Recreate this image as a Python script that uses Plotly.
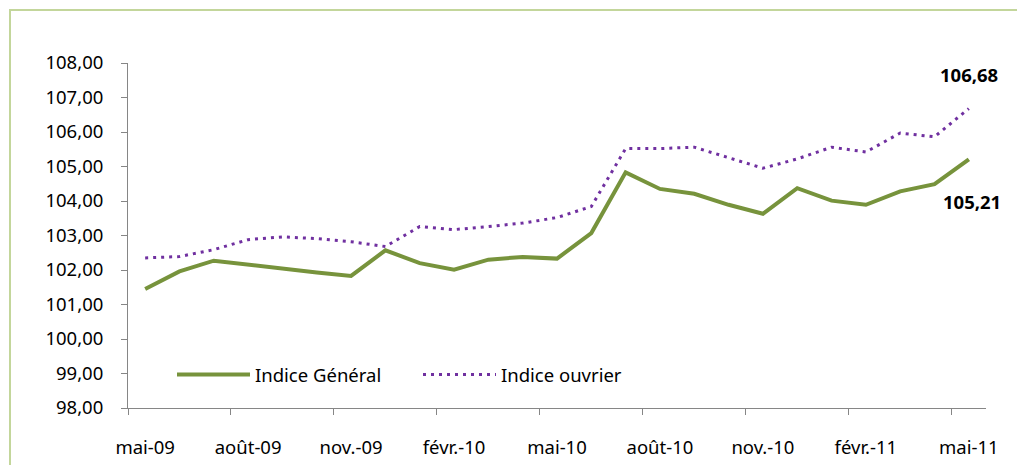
import plotly.graph_objects as go

months = ["mai-09", "juin-09", "juil.-09", "août-09", "sept.-09", "oct.-09", "nov.-09",
          "déc.-09", "janv.-10", "févr.-10", "mars-10", "avr.-10", "mai-10", "juin-10",
          "juil.-10", "août-10", "sept.-10", "oct.-10", "nov.-10", "déc.-10", "janv.-11",
          "févr.-11", "mars-11", "avr.-11", "mai-11"]

indice_general = [101.45, 101.96, 102.27, 102.15, 102.03, 101.93, 101.83, 102.57, 102.20,
                  102.01, 102.30, 102.38, 102.33, 103.07, 104.83, 104.35, 104.21, 103.89,
                  103.63, 104.37, 104.01, 103.89, 104.28, 104.49, 105.21]

indice_ouvrier = [102.35, 102.39, 102.59, 102.88, 102.96, 102.91, 102.82, 102.68, 103.26,
                  103.17, 103.26, 103.36, 103.52, 103.84, 105.52, 105.52, 105.56, 105.25,
                  104.95, 105.22, 105.56, 105.42, 105.97, 105.86, 106.68]

FONT = "Noto Sans, Liberation Sans, sans-serif"
FS = 18.5

fig = go.Figure()
fig.add_trace(go.Scatter(x=months, y=indice_general, mode="lines", name="Indice Général",
                         line=dict(color="#77933c", width=4)))
fig.add_trace(go.Scatter(x=months, y=indice_ouvrier, mode="lines", name="Indice ouvrier",
                         line=dict(color="#7030a0", width=3, dash="3px,5px")))

fmt = lambda v: f"{v:.2f}".replace(".", ",")
fig.add_annotation(x=months[-1], y=indice_ouvrier[-1], text="<b>" + fmt(indice_ouvrier[-1]) + "</b>",
                   showarrow=False, yshift=34, font=dict(size=FS, color="#000", family=FONT))
fig.add_annotation(x=months[-1], y=indice_general[-1], text="<b>" + fmt(indice_general[-1]) + "</b>",
                   showarrow=False, yshift=-42, xshift=3, font=dict(size=FS, color="#000", family=FONT))

# page has an 8px body offset; figure coords = page coords - 8
OFF = 8
W, H = 1025, 465
L, T = 128 - OFF, 63 - OFF
R = W - (986 - OFF)
B = H - (408 - OFF)
pw, ph = W - L - R, H - T - B

def px_x(x):
    return (x - OFF - L) / pw

def px_y(y):
    return (H - B - (y - OFF)) / ph

fig.add_shape(type="rect", xref="paper", yref="paper",
              x0=px_x(10), x1=px_x(1020), y0=px_y(500), y1=px_y(10),
              line=dict(color="#c3d69b", width=2), layer="below")

fig.update_layout(
    width=W, height=H,
    margin=dict(l=L, r=R, t=T, b=B),
    paper_bgcolor="white", plot_bgcolor="white",
    separators=", ",
    font=dict(family=FONT, size=FS, color="#000"),
    showlegend=True,
    legend=dict(orientation="h", x=px_x(172), y=px_y(375), yanchor="middle",
                xanchor="left", bgcolor="rgba(0,0,0,0)", font=dict(size=FS, family=FONT),
                itemwidth=73, entrywidth=158, entrywidthmode="pixels"),
    xaxis=dict(type="category", range=[-0.5, 24.5], dtick=3, tickson="boundaries",
               ticks="outside", ticklen=6, tickcolor="#868686", showline=True,
               linecolor="#868686", linewidth=1, showgrid=False, zeroline=False,
               automargin=False, ticklabelstandoff=23, tickangle=0,
               tickfont=dict(size=FS, family=FONT)),
    yaxis=dict(range=[98, 108], dtick=1, tick0=98, tickformat=".2f", ticks="outside",
               ticklen=6, tickcolor="#868686", showline=True, linecolor="#868686",
               linewidth=1, showgrid=False, zeroline=False, automargin=False,
               ticklabelstandoff=14, tickfont=dict(size=FS, family=FONT)),
)

fig.write_html("out.html")
